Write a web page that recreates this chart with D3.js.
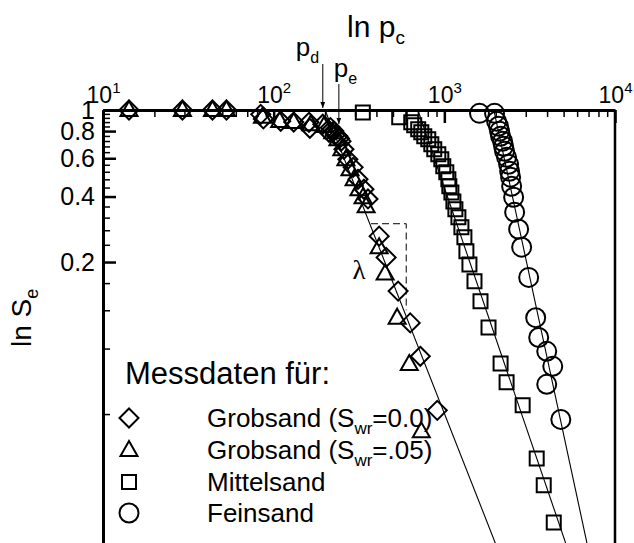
<!DOCTYPE html>
<html>
<head>
<meta charset="utf-8">
<script src="https://cdn.jsdelivr.net/npm/d3@7"></script>
<style>
  body { margin: 0; background: #fff; }
  svg { display: block; }
  text { font-family: "Liberation Sans", Arial, Helvetica, sans-serif; fill: #000; }
</style>
</head>
<body>
<svg id="chart" width="634" height="543"></svg>
<script>
// Capillary pressure p_c against effective saturation S_e (log-log), four sands.
// Each point: [p_c, S_e]

const grobsand00 = [
  [14.2, 1.0], [29.2, 1.0], [43.8, 1.0], [52.9, 1.0], [84, 0.955], [87, 0.91],
  [110, 0.887], [131, 0.88], [161, 0.878], [163, 0.824], [194, 0.86], [211, 0.79],
  [215, 0.83], [225, 0.8], [230, 0.77], [238, 0.757], [243, 0.74], [248, 0.718],
  [258, 0.66], [272, 0.593], [292, 0.545], [312, 0.48], [338, 0.432], [357, 0.39],
  [415, 0.263], [456, 0.21], [536, 0.147], [631, 0.105], [723, 0.0737], [909, 0.0416]
];

const grobsand05 = [
  [14.2, 1.0], [29.2, 1.0], [43.8, 1.0], [52.9, 1.0], [86, 0.93], [108.5, 0.89],
  [131, 0.88], [165, 0.86], [197, 0.845], [222, 0.79], [238, 0.733], [251, 0.66],
  [265, 0.593], [280, 0.534], [296, 0.48], [316, 0.432], [334, 0.397], [348, 0.361],
  [415, 0.234], [450, 0.177], [529, 0.111], [623, 0.068], [733, 0.0333]
];

const mittelsand = [
  [333, 0.973], [544, 0.926], [640, 0.878], [666, 0.851], [703, 0.815], [733, 0.79],
  [763, 0.757], [805, 0.733], [839, 0.695], [873, 0.66], [922, 0.626], [960, 0.593],
  [986, 0.551], [1027, 0.517], [1056, 0.48], [1070, 0.446], [1100, 0.418], [1130, 0.38],
  [1161, 0.35], [1209, 0.321], [1259, 0.289], [1311, 0.26], [1347, 0.224], [1403, 0.195],
  [1502, 0.163], [1629, 0.132], [1815, 0.1], [2136, 0.0684], [2316, 0.056], [2877, 0.0439],
  [3477, 0.025], [3823, 0.0188], [4377, 0.0127]
];

const feinsand = [
  [1607, 0.965], [1969, 0.965], [2023, 0.887], [2078, 0.842], [2107, 0.798], [2136, 0.757],
  [2194, 0.718], [2224, 0.681], [2254, 0.646], [2316, 0.606], [2380, 0.563], [2413, 0.523],
  [2445, 0.491], [2479, 0.446], [2547, 0.397], [2582, 0.339], [2725, 0.283], [2838, 0.234],
  [3120, 0.17], [3430, 0.111], [3572, 0.09], [3981, 0.0777], [4318, 0.0663], [3981, 0.0548],
  [4814, 0.0378]
];

// Straight fitted lines (Brooks-Corey in log-log), start and end points
const fitGrobsand = [[200, 1], [2000, 0.0101]];
const fitMittelsand = [[700, 1], [5185, 0.01]];
const fitFeinsand = [[1950, 1], [6888, 0.01]];

// Entry pressure markers and slope box
const pdValue = 194;
const peValue = 241;
const lambdaBoxP = [372, 598];
const lambdaBoxS = [0.3, 0.12];
const lambdaLabelAt = [316, 0.167];

// Axis ticks
const xMajorTicks = [10, 100, 1000, 10000];
const xTickExponents = ["1", "2", "3", "4"];
const yMajorTicks = [0.2, 0.4, 0.6, 0.8, 1];
const yTickLabels = ["0.2", "0.4", "0.6", "0.8", "1"];
const yMinorTicks = [0.04, 0.08, 0.12, 0.16, 0.24, 0.28, 0.32, 0.36, 0.44, 0.48, 0.52, 0.56,
                     0.64, 0.68, 0.72, 0.76, 0.84, 0.88, 0.92, 0.96];

// Legend
const legendTitle = "Messdaten für:";
const legendEntries = [
  { sym: "diamond",  pre: "Grobsand (S", sub: "wr", post: "=0.0)" },
  { sym: "triangle", pre: "Grobsand (S", sub: "wr", post: "=.05)" },
  { sym: "square",   pre: "Mittelsand", sub: "", post: "" },
  { sym: "circle",   pre: "Feinsand", sub: "", post: "" }
];

const svg = d3.select("#chart");
const plotLeft = 103, plotRight = 615, plotTop = 110, plotBottom = 545;

const x = d3.scaleLog().domain([10, 10000]).range([plotLeft, plotRight]);
const y = d3.scaleLog().domain([0.01, 1]).range([plotBottom, plotTop]);

function markerPath(type) {
  switch (type) {
    case "diamond":  return "M0,-9.5L9.5,0L0,9.5L-9.5,0Z";
    case "triangle": return "M0,-9L8.5,6L-8.5,6Z";
    case "square":   return "M-7,-7H7V7H-7Z";
    default:         return "M9.5,0A9.5,9.5 0 1,1 -9.5,0A9.5,9.5 0 1,1 9.5,0Z";
  }
}

// Fit lines
const lineGen = d3.line().x(d => x(d[0])).y(d => y(d[1]));
[fitGrobsand, fitMittelsand, fitFeinsand].forEach(f => {
  svg.append("path").attr("d", lineGen(f))
    .attr("fill", "none").attr("stroke", "#000").attr("stroke-width", 1.1);
});

// Data markers
const series = [
  { data: grobsand00, sym: "diamond" },
  { data: grobsand05, sym: "triangle" },
  { data: mittelsand, sym: "square" },
  { data: feinsand, sym: "circle" }
];
series.forEach(s => {
  svg.append("g").selectAll("path").data(s.data).join("path")
    .attr("transform", d => `translate(${x(d[0])},${y(d[1])})`)
    .attr("d", markerPath(s.sym))
    .attr("fill", "none").attr("stroke", "#000").attr("stroke-width", 2);
});

// Top axis
const xMinor = [];
[10, 100, 1000].forEach(b => { for (let k = 2; k <= 9; k++) xMinor.push(b * k); });

const gx = svg.append("g").attr("transform", `translate(0,${plotTop})`);
gx.append("g")
  .call(d3.axisTop(x).tickValues(xMinor).tickSize(-7).tickSizeOuter(0).tickFormat(""))
  .call(g => g.select(".domain").remove())
  .selectAll("line").attr("stroke-width", 1.5);
const gxMajor = gx.append("g")
  .call(d3.axisTop(x).tickValues(xMajorTicks).tickSize(-13).tickSizeOuter(0).tickPadding(7).tickFormat(""));
gxMajor.select(".domain").attr("stroke-width", 3);
gxMajor.selectAll("line").attr("stroke-width", 2.5);
gxMajor.selectAll(".tick text").each(function(d, i) {
  const t = d3.select(this).attr("font-size", 23).attr("fill", "#000")
    .attr("font-family", "'Liberation Sans', Arial, sans-serif");
  t.append("tspan").text("10");
  t.append("tspan").attr("dy", -10).attr("font-size", 15).text(xTickExponents[i]);
});

// Left axis
const gy = svg.append("g").attr("transform", `translate(${plotLeft},0)`);
gy.append("g")
  .call(d3.axisLeft(y).tickValues(yMinorTicks).tickSize(-7).tickSizeOuter(0).tickFormat(""))
  .call(g => g.select(".domain").remove())
  .selectAll("line").attr("stroke-width", 1.5);
const gyMajor = gy.append("g")
  .call(d3.axisLeft(y).tickValues(yMajorTicks).tickSize(-13).tickSizeOuter(0).tickPadding(8)
    .tickFormat((d, i) => yTickLabels[i]));
gyMajor.select(".domain").attr("stroke-width", 3);
gyMajor.selectAll("line").attr("stroke-width", 2.5);
gyMajor.selectAll(".tick text").attr("font-size", 25).attr("fill", "#000")
  .attr("font-family", "'Liberation Sans', Arial, sans-serif");

// Right frame and bottom frame
svg.append("line").attr("x1", plotRight).attr("x2", plotRight).attr("y1", plotTop).attr("y2", plotBottom)
  .attr("stroke", "#000").attr("stroke-width", 2.5);
svg.append("line").attr("x1", plotLeft).attr("x2", plotRight).attr("y1", plotBottom).attr("y2", plotBottom)
  .attr("stroke", "#000").attr("stroke-width", 2.5);

// Axis titles
const title = svg.append("text").attr("x", 347).attr("y", 37).attr("font-size", 30);
title.append("tspan").text("ln p");
title.append("tspan").attr("dy", 7).attr("font-size", 19).text("c");

const ylab = svg.append("text")
  .attr("transform", "translate(31,347) rotate(-90)").attr("font-size", 28);
ylab.append("tspan").text("ln S");
ylab.append("tspan").attr("dy", 7).attr("font-size", 18).text("e");

// p_d and p_e arrows
svg.append("defs").append("marker")
  .attr("id", "arrowhead").attr("viewBox", "0 0 10 10").attr("refX", 10).attr("refY", 5)
  .attr("markerWidth", 6).attr("markerHeight", 7).attr("orient", "auto")
  .attr("markerUnits", "userSpaceOnUse")
  .append("path").attr("d", "M0,1L10,5L0,9Z").attr("fill", "#000");

svg.append("line").attr("x1", x(pdValue)).attr("x2", x(pdValue)).attr("y1", 64).attr("y2", plotTop - 2)
  .attr("stroke", "#000").attr("stroke-width", 1).attr("marker-end", "url(#arrowhead)");
svg.append("line").attr("x1", x(peValue)).attr("x2", x(peValue)).attr("y1", 84).attr("y2", 124)
  .attr("stroke", "#000").attr("stroke-width", 1).attr("marker-end", "url(#arrowhead)");

const pdText = svg.append("text").attr("x", x(pdValue) - 27).attr("y", 56).attr("font-size", 26);
pdText.append("tspan").text("p");
pdText.append("tspan").attr("dy", 7).attr("font-size", 16).text("d");
const peText = svg.append("text").attr("x", x(peValue) - 5).attr("y", 77).attr("font-size", 26);
peText.append("tspan").text("p");
peText.append("tspan").attr("dy", 7).attr("font-size", 16).text("e");

// Slope marker
svg.append("path")
  .attr("d", `M${x(lambdaBoxP[0])},${y(lambdaBoxS[0])}H${x(lambdaBoxP[1])}V${y(lambdaBoxS[1])}`)
  .attr("fill", "none").attr("stroke", "#000").attr("stroke-width", 1)
  .attr("stroke-dasharray", "7,4");
svg.append("text").attr("x", x(lambdaLabelAt[0])).attr("y", y(lambdaLabelAt[1]))
  .attr("text-anchor", "middle").attr("font-size", 27)
  .style("font-family", "'Liberation Serif', 'DejaVu Serif', serif").text("λ");

// Legend
svg.append("text").attr("x", 125).attr("y", 384).attr("font-size", 31).text(legendTitle);
const rowY = [418, 450, 482, 513];
legendEntries.forEach((e, i) => {
  svg.append("path").attr("transform", `translate(129,${rowY[i]})`)
    .attr("d", markerPath(e.sym)).attr("fill", "none").attr("stroke", "#000").attr("stroke-width", 2);
  const t = svg.append("text").attr("x", 207).attr("y", rowY[i] + 9).attr("font-size", 26);
  t.append("tspan").text(e.pre);
  if (e.sub) {
    t.append("tspan").attr("dy", 7).attr("font-size", 17).text(e.sub);
    t.append("tspan").attr("dy", -7).attr("font-size", 26).text(e.post);
  }
});
</script>
</body>
</html>
